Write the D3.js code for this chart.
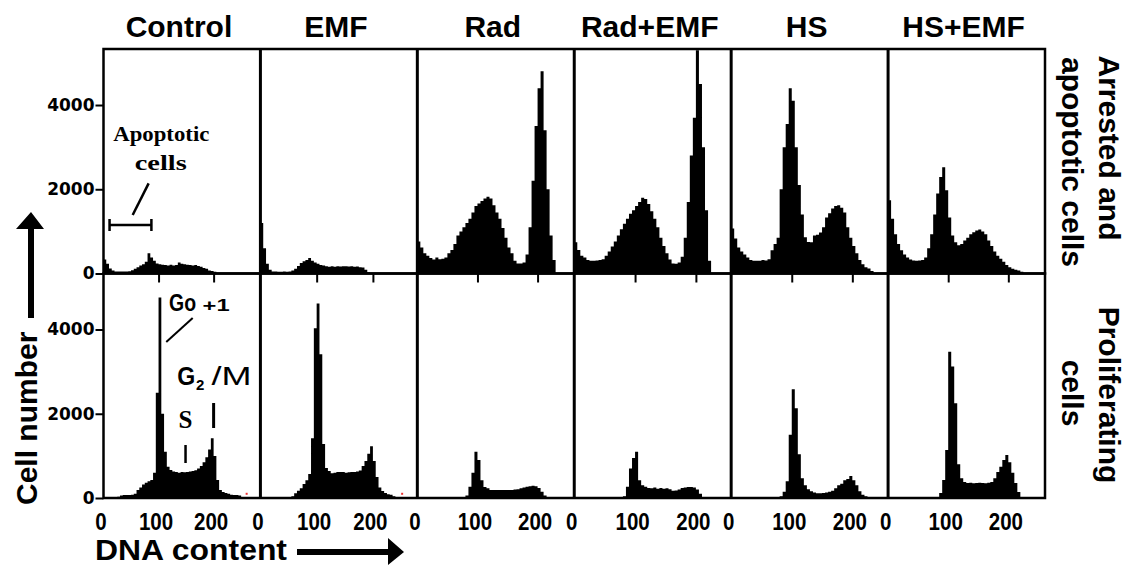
<!DOCTYPE html>
<html>
<head>
<meta charset="utf-8">
<style>
  body { margin: 0; background: #fff; }
  svg { font-family: "Liberation Sans", Arial, sans-serif; }
</style>
</head>
<body>
<svg id="chart" width="1128" height="567"></svg>
<script src="https://d3js.org/d3.v7.min.js"></script>
<script>
// groups (columns) and rows
const columns = ["Control", "EMF", "Rad", "Rad+EMF", "HS", "HS+EMF"];
const rowKeys = ["arrested", "proliferating"];
const rowLabels = [["Arrested and", "apoptotic cells"], ["Proliferating", "cells"]];

// DNA content axis: histogram bins of 5 units starting at 0
const binWidth = 5;
const xTicks = [0, 100, 200];
const yTicks = [0, 2000, 4000];
const xMax = [285, 279, 261, 258, 259, 261];   // visible DNA range per column
const yMax = 5330;

// cell counts per bin, arrested and apoptotic cells
const controlArrested = [330,230,120,70,50,45,45,45,50,55,80,110,150,190,220,280,480,380,300,240,220,210,200,190,210,190,200,260,230,220,210,200,190,200,180,160,130,110,70,60,40];
const emfArrested = [1200,600,230,90,50,45,40,40,45,40,50,70,110,180,250,290,320,370,300,260,230,200,190,170,160,170,160,170,165,170,170,165,170,160,165,150,140,90,30];
const radArrested = [760,620,480,420,370,330,380,340,350,380,480,560,700,900,1000,1100,1200,1300,1450,1600,1660,1720,1780,1820,1780,1620,1450,1300,1080,850,620,480,300,240,240,260,450,1100,2200,3500,4400,4800,3400,2000,900,320];
const radEmfArrested = [740,560,420,380,320,300,300,310,320,340,420,520,640,760,900,1050,1180,1300,1420,1500,1600,1700,1800,1770,1650,1480,1300,1100,850,650,480,330,240,230,260,400,850,1700,2800,3700,5300,4500,3000,1500,300];
const hsArrested = [1070,830,620,520,450,380,320,300,300,300,320,310,340,550,700,850,2000,3000,3550,4400,4100,3000,2100,1400,860,750,740,900,920,975,1100,1330,1430,1545,1600,1620,1560,1450,1100,850,650,480,320,220,150,120,60];
const hsEmfArrested = [1740,1300,930,700,550,450,380,330,310,300,310,320,380,600,930,1400,1900,2290,2525,1975,1330,900,740,670,700,785,850,930,980,1020,1045,1000,930,785,650,520,420,350,280,200,150,110,90,70,40];

// cell counts per bin, proliferating cells
const controlProlif = [0,0,0,0,0,30,60,70,70,70,80,100,190,250,320,360,400,430,600,2500,4760,2000,1100,740,665,630,620,600,620,610,620,630,640,660,700,760,850,970,1150,1420,1000,430,190,140,120,100,80,70,70,60];
const emfProlif = [0,0,0,0,0,0,0,0,0,0,0,40,110,170,230,330,420,570,1420,4030,4620,3410,1280,710,640,590,600,615,620,615,600,610,615,620,630,650,760,880,1050,1230,880,500,250,165,120,90,75,40];
const radProlif = [0,0,0,0,0,0,0,0,0,0,0,0,0,0,0,0,60,270,600,1100,900,420,260,230,190,190,190,190,190,190,190,190,200,210,230,250,270,280,290,280,240,150,60];
const radEmfProlif = [0,0,0,0,0,0,0,0,0,0,0,0,0,0,0,0,40,270,700,950,1100,420,300,270,240,230,250,220,240,220,230,210,170,180,200,240,250,260,260,250,200,100];
const hsProlif = [0,0,0,0,0,0,0,0,0,0,0,0,0,0,0,0,40,150,400,1500,2580,2130,1040,470,300,210,160,130,115,115,120,130,150,170,230,300,340,420,450,520,420,300,160,80,40];
const hsEmfProlif = [0,0,0,0,0,0,0,0,0,0,0,0,0,0,0,0,0,120,430,1140,3470,3120,2250,800,470,380,355,360,350,355,360,355,350,360,380,470,620,740,900,1020,850,600,355,140];

const histograms = [
  [controlArrested, emfArrested, radArrested, radEmfArrested, hsArrested, hsEmfArrested],
  [controlProlif, emfProlif, radProlif, radEmfProlif, hsProlif, hsEmfProlif]
];

const sans = '"Liberation Sans", Arial, sans-serif';
const serif = '"Liberation Serif", "Times New Roman", serif';
const wide = '"DejaVu Sans", Verdana, sans-serif';

const svg = d3.select("#chart");
svg.append("rect").attr("width", 1128).attr("height", 567).attr("fill", "#fff");

const col = d3.scaleBand().domain(columns).range([103.5, 1045]);
const row = d3.scaleBand().domain(rowKeys).range([49, 498]);

const xScales = columns.map((c, i) =>
  d3.scaleLinear().domain([0, xMax[i]]).range([col(c), col(c) + col.bandwidth()]));
const yScales = rowKeys.map(r =>
  d3.scaleLinear().domain([0, yMax]).range([row(r) + row.bandwidth(), row(r)]));

// histograms
rowKeys.forEach((r, ri) => {
  const y = yScales[ri];
  columns.forEach((c, ci) => {
    const x = xScales[ci];
    const bins = histograms[ri][ci];
    const pts = bins.map((v, i) => [i * binWidth, v]);
    pts.push([bins.length * binWidth, 0]);
    const area = d3.area()
      .curve(d3.curveStepAfter)
      .x(d => x(d[0]))
      .y0(y(0))
      .y1(d => y(Math.min(d[1], yMax)));
    svg.append("path").datum(pts).attr("d", area).attr("fill", "#000");
  });
});

// frames
rowKeys.forEach(r => {
  svg.append("rect")
    .attr("x", col.range()[0]).attr("y", row(r))
    .attr("width", col.range()[1] - col.range()[0]).attr("height", row.bandwidth())
    .attr("fill", "none").attr("stroke", "#000").attr("stroke-width", 2.5);
});
columns.slice(1).forEach(c => {
  svg.append("line")
    .attr("x1", col(c)).attr("x2", col(c))
    .attr("y1", row.range()[0]).attr("y2", row.range()[1])
    .attr("stroke", "#000").attr("stroke-width", 3);
});

// ticks below top row
columns.forEach((c, ci) => {
  const g = svg.append("g")
    .attr("transform", `translate(0,${row("arrested") + row.bandwidth()})`)
    .call(d3.axisBottom(xScales[ci]).tickValues([100, 200]).tickSize(9).tickFormat(""));
  g.select(".domain").remove();
  g.selectAll("line").attr("stroke-width", 2);
});

// x tick labels under bottom row
columns.forEach((c, ci) => {
  const g = svg.append("g")
    .attr("transform", `translate(0,${row.range()[1]})`)
    .call(d3.axisBottom(xScales[ci]).tickValues(xTicks).tickSize(0).tickPadding(16));
  g.select(".domain").remove();
  g.selectAll("text")
    .attr("dx", -3)
    .style("font-family", sans)
    .style("font-weight", "bold")
    .style("font-size", "23px")
    .attr("textLength", d => String(d).length * 11.4)
    .attr("lengthAdjust", "spacingAndGlyphs");
});

// y axes on the left
rowKeys.forEach((r, ri) => {
  const g = svg.append("g")
    .attr("transform", `translate(${col.range()[0]},0)`)
    .call(d3.axisLeft(yScales[ri]).tickValues(yTicks).tickFormat(d3.format("d")).tickSize(8).tickPadding(1));
  g.select(".domain").remove();
  g.selectAll("line").attr("stroke-width", 2);
  g.selectAll("text")
    .style("font-family", wide)
    .style("font-weight", "bold")
    .style("font-size", "17px");
});

// column titles
columns.forEach(c => {
  svg.append("text")
    .attr("x", col(c) + col.bandwidth() / 2 - 3).attr("y", 37)
    .attr("text-anchor", "middle")
    .style("font-size", "30px").style("font-weight", "bold")
    .text(c);
});

// row labels on the right
const rowLabelCentres = [[148, 162], [395, 393]];
rowLabels.forEach((lines, ri) => {
  [1099, 1062].forEach((bx, li) => {
    svg.append("text")
      .attr("transform", `translate(${bx},${rowLabelCentres[ri][li]}) rotate(90)`)
      .attr("text-anchor", "middle")
      .style("font-size", "30px").style("font-weight", "bold")
      .text(lines[li]);
  });
});

// axis titles with arrows
svg.append("text")
  .attr("transform", "translate(37,505) rotate(-90)")
  .style("font-size", "30px").style("font-weight", "bold")
  .text("Cell number");
svg.append("path")
  .attr("d", "M28,318 L28,229 L16,229 L31,212 L44,229 L34,229 L34,318 Z")
  .attr("fill", "#000");

svg.append("text")
  .attr("x", 95).attr("y", 560)
  .style("font-size", "30px").style("font-weight", "bold")
  .attr("textLength", 192).attr("lengthAdjust", "spacingAndGlyphs")
  .text("DNA content");
svg.append("path")
  .attr("d", "M297,549 L388,549 L388,538 L404,552 L388,565 L388,555 L297,555 Z")
  .attr("fill", "#000");

// annotations in the Control panels
const xc = xScales[0], yTop = yScales[0], yBot = yScales[1];

svg.append("text").attr("x", xc(105)).attr("y", yTop(3140))
  .attr("text-anchor", "middle")
  .style("font-family", serif).style("font-weight", "bold").style("font-size", "22px")
  .attr("textLength", 96).attr("lengthAdjust", "spacingAndGlyphs")
  .text("Apoptotic");
svg.append("text").attr("x", xc(104)).attr("y", yTop(2450))
  .attr("text-anchor", "middle")
  .style("font-family", serif).style("font-weight", "bold").style("font-size", "22px")
  .attr("textLength", 52).attr("lengthAdjust", "spacingAndGlyphs")
  .text("cells");
svg.append("line")
  .attr("x1", xc(82)).attr("y1", yTop(2140)).attr("x2", xc(53)).attr("y2", yTop(1390))
  .attr("stroke", "#000").attr("stroke-width", 2.5);
// apoptotic range bracket
const by = yTop(1150);
svg.append("path")
  .attr("d", `M${xc(11)},${by} H${xc(87)} M${xc(11)},${by - 6} V${by + 6} M${xc(87)},${by - 6} V${by + 6}`)
  .attr("stroke", "#000").attr("stroke-width", 2.5).attr("fill", "none");

svg.append("text").attr("x", xc(119)).attr("y", yBot(4440))
  .style("font-size", "24px").style("font-weight", "bold")
  .attr("textLength", 27).attr("lengthAdjust", "spacingAndGlyphs")
  .text("Go");
svg.append("text").attr("x", xc(180)).attr("y", yBot(4440))
  .style("font-size", "16px").style("font-weight", "bold")
  .attr("textLength", 27).attr("lengthAdjust", "spacingAndGlyphs")
  .text("+1");
svg.append("line")
  .attr("x1", xc(162)).attr("y1", yBot(4274)).attr("x2", xc(114)).attr("y2", yBot(3704))
  .attr("stroke", "#000").attr("stroke-width", 2);

svg.append("text").attr("x", xc(134)).attr("y", yBot(2683))
  .style("font-size", "25px").style("font-weight", "bold")
  .attr("textLength", 18).attr("lengthAdjust", "spacingAndGlyphs")
  .text("G");
svg.append("text").attr("x", xc(168)).attr("y", yBot(2564))
  .style("font-size", "15px").style("font-weight", "bold")
  .text("2");
svg.append("text").attr("x", xc(196)).attr("y", yBot(2683))
  .style("font-size", "25px")
  .attr("textLength", 40).attr("lengthAdjust", "spacingAndGlyphs")
  .text("/M");
svg.append("line")
  .attr("x1", xc(200)).attr("x2", xc(200)).attr("y1", yBot(2255)).attr("y2", yBot(1662))
  .attr("stroke", "#000").attr("stroke-width", 3);

svg.append("text").attr("x", xc(149)).attr("y", yBot(1662))
  .attr("text-anchor", "middle")
  .style("font-family", serif).style("font-weight", "bold").style("font-size", "25px")
  .text("S");
svg.append("line")
  .attr("x1", xc(149)).attr("x2", xc(149)).attr("y1", yBot(1258)).attr("y2", yBot(831))
  .attr("stroke", "#000").attr("stroke-width", 2.5);

// small red specks near the baseline of the first two proliferating panels
[[0, 260], [1, 252]].forEach(([ci, u]) => {
  svg.append("rect")
    .attr("x", xScales[ci](u) - 1).attr("y", yBot(100) - 1)
    .attr("width", 2).attr("height", 2).attr("fill", "#e33");
});
</script>
</body>
</html>
